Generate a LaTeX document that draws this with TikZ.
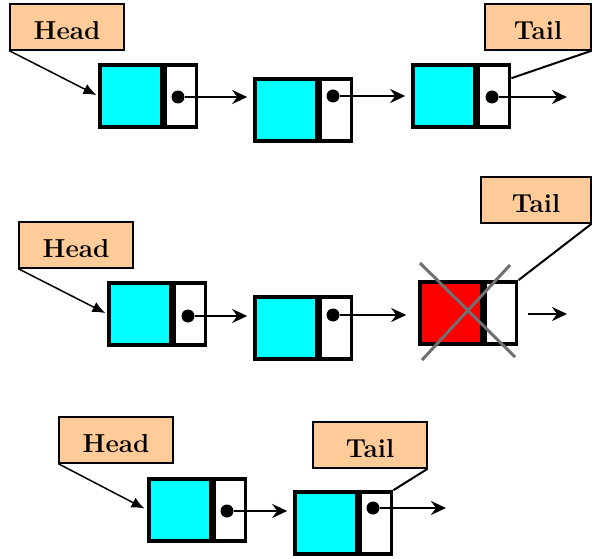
\documentclass[tikz,border=0pt]{standalone}
\usepackage{tikz}
\usetikzlibrary{arrows.meta}
\definecolor{peach}{RGB}{255,204,153}
\definecolor{aqua}{RGB}{0,255,255}
\definecolor{crossgray}{RGB}{112,112,112}
\tikzset{arrow/.style={->, >={Stealth[length=15pt, width=14pt, inset=5pt]}, line width=2.5pt}}
\tikzset{
  tagbox/.style={draw, fill=peach, line width=1.4pt, minimum width=114pt,
    minimum height=46pt, inner sep=0pt, text height=25pt, text depth=0pt,
    font=\fontsize{26}{30}\selectfont\bfseries},
  data/.style={draw, line width=3.6pt, minimum width=62pt, minimum height=62pt, inner sep=0pt},
  ptr/.style={draw, line width=3.6pt, fill=white, minimum width=31pt, minimum height=62pt,
    inner sep=0pt, anchor=west},
  ptrdot/.style={circle, fill=black, inner sep=0pt, minimum size=13pt},
  pointer/.style={->, >={Latex[length=13pt, width=11pt]}, line width=1.5pt},
  tailline/.style={line width=2pt}
}
\newcommand{\listcell}[3]{%
  \node[data, fill=#3] (#1) at (#2) {};
  \node[ptr] (#1p) at (#1.east) {};}

\begin{document}
\begin{tikzpicture}[x=1pt, y=-1pt]
      \useasboundingbox (0,0) rectangle (592,559);

      % first list
      \node[tagbox] (h1) at (67, 27) {Head};
      \node[tagbox, minimum width=106pt] (t1) at (538, 27) {Tail};
      \listcell{n11}{131, 96}{aqua}
      \listcell{n12}{286, 110}{aqua}
      \listcell{n13}{444, 96}{aqua}
      \node[ptrdot] (d11) at (178, 97) {};
      \node[ptrdot] (d12) at (333, 96) {};
      \node[ptrdot] (d13) at (492, 97) {};
      \coordinate (e1) at (567, 97);

      \draw[pointer, shorten >=2pt] (h1.south west) -- (n11.west);
      \draw[arrow, shorten >=6pt] (d11) -- (n12.west |- d11);
      \draw[arrow, shorten >=6pt] (d12) -- (n13.west |- d12);
      \draw[arrow] (d13) -- (e1);
      \draw[tailline] (t1.south east) -- ([yshift=-15pt]n13p.north east);

      % second list
      \node[tagbox] (h2) at (76, 245) {Head};
      \node[tagbox, minimum width=110pt] (t2) at (536, 200) {Tail};
      \listcell{n21}{140, 314}{aqua}
      \listcell{n22}{286, 328}{aqua}
      \listcell{n23}{451, 313}{red}
      \node[ptrdot] (d21) at (188, 316) {};
      \node[ptrdot] (d22) at (333, 315) {};
      \coordinate (e2) at (567, 314);

      \draw[pointer, shorten >=2pt] (h2.south west) -- (n21.west);
      \draw[arrow, shorten >=6pt] (d21) -- (n22.west |- d21);
      \draw[arrow, shorten >=12pt] (d22) -- (n23.west |- d22);
      \draw[arrow, shorten <=10pt] (n23p.east |- e2) -- (e2);
      \draw[crossgray, line width=3pt] (420, 263) -- (515, 357);
      \draw[crossgray, line width=3pt] (510, 265) -- (422, 360);
      \draw[tailline] (t2.south east) -- (n23p.north east);

      % third list
      \node[tagbox] (h3) at (116, 440) {Head};
      \node[tagbox] (t3) at (370, 445) {Tail};
      \listcell{n31}{180, 510}{aqua}
      \listcell{n32}{326, 523}{aqua}
      \node[ptrdot] (d31) at (227, 511) {};
      \node[ptrdot] (d32) at (373, 508) {};
      \coordinate (e3) at (446, 508);

      \draw[pointer, shorten >=3pt] (h3.south west) -- (n31.west);
      \draw[arrow, shorten >=6pt] (d31) -- (n32.west |- d31);
      \draw[arrow] (d32) -- (e3);
      \draw[tailline] (t3.south east) -- (n32p.north east);
\end{tikzpicture}
\end{document}
